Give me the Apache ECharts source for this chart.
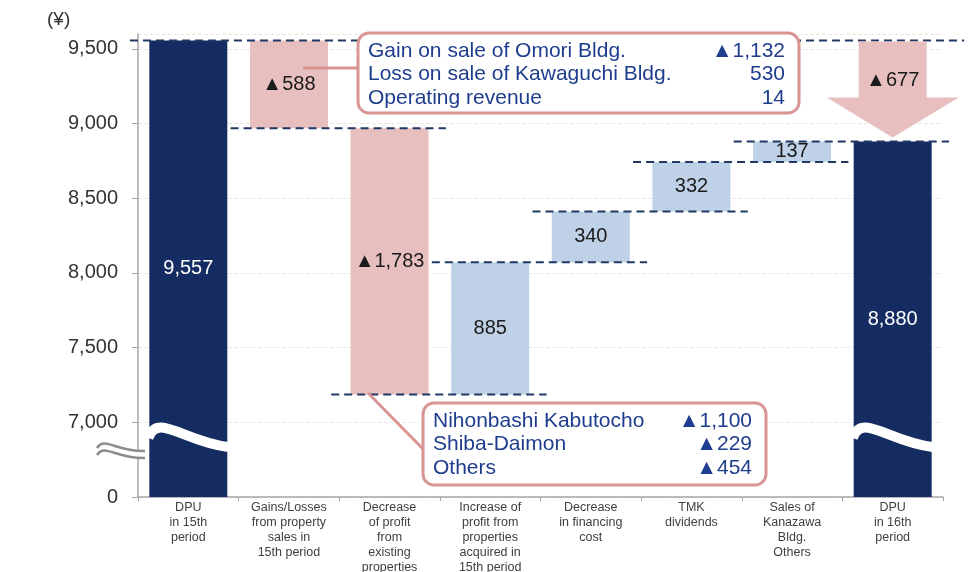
<!DOCTYPE html>
<html>
<head>
<meta charset="utf-8">
<title>DPU 15th to 16th period</title>
<script src="https://cdn.jsdelivr.net/npm/echarts@6.0.0/dist/echarts.min.js"></script>
<style>
    html, body { margin: 0; padding: 0; background: #fff; }
    #main { width: 969px; height: 572px; }
</style>
</head>
<body>
<div id="main"></div>
<script>
// categories of the bridge
var categories = [
    'DPU\nin 15th\nperiod',
    'Gains/Losses\nfrom property\nsales in\n15th period',
    'Decrease\nof profit\nfrom\nexisting\nproperties',
    'Increase of\nprofit from\nproperties\nacquired in\n15th period',
    'Decrease\nin financing\ncost',
    'TMK\ndividends',
    'Sales of\nKanazawa\nBldg.\nOthers',
    'DPU\nin 16th\nperiod'
];
// yen per unit, negative = decrease
var amounts = [9557, -588, -1783, 885, 340, 332, 137, 8880];
var isTotal = [true, false, false, false, false, false, false, true];

// breakdown callouts
var saleItems = ['Gain on sale of Omori Bldg.', 'Loss on sale of Kawaguchi Bldg.', 'Operating revenue'];
var saleValues = [-1132, 530, 14];
var existingItems = ['Nihonbashi Kabutocho', 'Shiba-Daimon', 'Others'];
var existingValues = [-1100, -229, -454];

var NAVY = '#142c61';
var PINK = '#e8bfbf';
var BLUE = '#bfd1e7';
var DASH = '#1f3864';
var CALLOUT = '#d99494';
var CALLTEXT = '#1f3d8e';
var FONT = '"Liberation Sans", Arial, sans-serif';

function fmt(v) {
    return (v < 0 ? '▲' : '') + Math.abs(v).toLocaleString('en-US');
}

// running totals -> invisible base + visible height
var bases = [], heights = [], ends = [];
var running = 0;
for (var i = 0; i < amounts.length; i++) {
    if (isTotal[i]) {
        bases.push(0);
        heights.push(amounts[i]);
        running = amounts[i];
    } else if (amounts[i] < 0) {
        running += amounts[i];
        bases.push(running);
        heights.push(-amounts[i]);
    } else {
        bases.push(running);
        heights.push(amounts[i]);
        running += amounts[i];
    }
    ends.push(running);
}
var last = amounts.length - 1;

// dashed level lines: [from, to, level] in category units
var connectors = [[-0.58, last + 0.71, ends[0]]];
for (var k = 1; k < last; k++) {
    if (isTotal[k]) continue;
    connectors.push([k - 0.58, k + 1.56, ends[k]]);
}

var chart = echarts.init(document.getElementById('main'));

var option = {
    animation: false,
    grid: {left: 138, right: 26, top: 34, bottom: 75, outerBoundsMode: 'none', containLabel: false},
    xAxis: [
        {
            type: 'category',
            data: categories,
            axisLine: {onZero: false, lineStyle: {color: '#a6a6a6', width: 1.5}},
            axisTick: {show: true, length: 4, lineStyle: {color: '#a6a6a6'}},
            axisLabel: {
                interval: 0,
                margin: 3,
                color: '#404040',
                fontSize: 12.5,
                lineHeight: 15,
                fontFamily: FONT,
                verticalAlign: 'top'
            }
        },
        {
            type: 'value',
            min: -0.5,
            max: last + 0.5,
            show: false,
            axisLine: {show: false, onZero: false},
            axisTick: {show: false},
            axisLabel: {show: false},
            splitLine: {show: false}
        }
    ],
    yAxis: {
        type: 'value',
        min: 6500,
        max: 9600,
        interval: 500,
        axisLine: {show: true, onZero: false, lineStyle: {color: '#a6a6a6', width: 1.5}},
        axisTick: {show: true, length: 6, lineStyle: {color: '#a6a6a6'}},
        axisLabel: {
            margin: 20,
            color: '#333',
            fontSize: 20,
            fontFamily: FONT,
            showMaxLabel: false,
            formatter: function (v) {
                if (v === 6500) return '0';
                if (v > 9500) return '';
                return v.toLocaleString('en-US');
            }
        },
        splitLine: {lineStyle: {color: '#e9e9e9', type: 'dashed'}}
    },
    series: [
        {
            name: 'base',
            type: 'bar',
            stack: 'bridge',
            barWidth: 78,
            silent: true,
            itemStyle: {color: 'transparent'},
            data: bases
        },
        {
            name: 'change',
            type: 'bar',
            stack: 'bridge',
            barWidth: 78,
            z: 3,
            data: heights.map(function (h, idx) {
                var color = isTotal[idx] ? NAVY : (amounts[idx] < 0 ? PINK : BLUE);
                return {
                    value: h,
                    itemStyle: {color: color},
                    label: {color: isTotal[idx] ? '#fff' : '#1a1a1a'}
                };
            }),
            label: {
                show: true,
                position: 'inside',
                fontSize: 20,
                fontFamily: FONT,
                formatter: function (p) {
                    return fmt(amounts[p.dataIndex]);
                }
            }
        },
        {
            name: 'levels',
            type: 'custom',
            xAxisIndex: 1,
            yAxisIndex: 0,
            clip: false,
            silent: true,
            z: 4,
            encode: {x: [0, 1], y: 2},
            data: connectors,
            renderItem: function (params, api) {
                var p1 = api.coord([api.value(0), api.value(2)]);
                var p2 = api.coord([api.value(1), api.value(2)]);
                return {
                    type: 'line',
                    shape: {x1: p1[0], y1: p1[1], x2: p2[0], y2: p2[1]},
                    style: {stroke: DASH, lineWidth: 2, lineDash: [8, 5]}
                };
            }
        },
        {
            name: 'total change',
            type: 'custom',
            z: 5,
            data: [[last, ends[0], ends[last]]],
            renderItem: function (params, api) {
                var top = api.coord([api.value(0), api.value(1)]);
                var tip = api.coord([api.value(0), api.value(2)]);
                var cx = top[0];
                var y0 = top[1] + 1;
                var y1 = tip[1] - 4;
                var headY = y1 - 40;
                return {
                    type: 'group',
                    children: [
                        {
                            type: 'polygon',
                            shape: {
                                points: [
                                    [cx - 34, y0], [cx + 34, y0], [cx + 34, headY], [cx + 66, headY],
                                    [cx, y1], [cx - 66, headY], [cx - 34, headY]
                                ]
                            },
                            style: {fill: PINK}
                        },
                        {
                            type: 'text',
                            style: {
                                text: fmt(api.value(2) - api.value(1)),
                                x: cx,
                                y: y0 + 39,
                                align: 'center',
                                verticalAlign: 'middle',
                                font: '20px ' + FONT,
                                fill: '#1a1a1a'
                            }
                        }
                    ]
                };
            }
        }
    ]
};

chart.setOption(option);

// broken-axis marks and callout boxes
var breakY = chart.convertToPixel({yAxisIndex: 0}, 6895);
var axisX = chart.convertToPixel({xAxisIndex: 1}, -0.5);
var graphics = [];

[0, last].forEach(function (idx) {
    var left = chart.convertToPixel({xAxisIndex: 1}, idx) - 39;
    graphics.push({
        type: 'bezierCurve',
        z: 10,
        shape: {
            x1: left - 1, y1: breakY,
            cpx1: left + 8, cpy1: breakY - 26,
            cpx2: left + 35, cpy2: breakY + 4,
            x2: left + 79, y2: breakY + 9
        },
        style: {stroke: '#fff', lineWidth: 10, fill: null}
    });
});

function axisWave(dy, color, width) {
    return {
        type: 'bezierCurve',
        z: 10,
        shape: {
            x1: axisX - 41, y1: breakY + 10 + dy,
            cpx1: axisX - 33, cpy1: breakY - 2 + dy,
            cpx2: axisX - 22, cpy2: breakY + 14 + dy,
            x2: axisX + 7, y2: breakY + 13 + dy
        },
        style: {stroke: color, lineWidth: width, fill: null}
    };
}
graphics.push(axisWave(3.5, '#fff', 7));
graphics.push(axisWave(0, '#8c8c8c', 2.5));
graphics.push(axisWave(7, '#8c8c8c', 2.5));

graphics.push({
    type: 'text',
    left: 47,
    top: 10,
    style: {text: '(¥)', font: '19px ' + FONT, fill: '#333'}
});

function callout(box, lineFrom, lineTo, items, values) {
    var children = [
        {
            type: 'line',
            z: 20,
            shape: {x1: lineFrom[0], y1: lineFrom[1], x2: lineTo[0], y2: lineTo[1]},
            style: {stroke: CALLOUT, lineWidth: 3}
        },
        {
            type: 'rect',
            z: 21,
            shape: {x: box.x, y: box.y, width: box.w, height: box.h, r: 11},
            style: {fill: '#fff', stroke: CALLOUT, lineWidth: 3}
        }
    ];
    items.forEach(function (name, n) {
        var y = box.y + 18 + n * 23.5;
        children.push({
            type: 'text',
            z: 22,
            style: {text: name, x: box.x + 10, y: y, verticalAlign: 'middle', font: '21px ' + FONT, fill: CALLTEXT}
        });
        children.push({
            type: 'text',
            z: 22,
            style: {text: fmt(values[n]), x: box.x + box.w - 14, y: y, align: 'right', verticalAlign: 'middle', font: '21px ' + FONT, fill: CALLTEXT}
        });
    });
    return {type: 'group', children: children};
}

graphics.push(callout({x: 358, y: 33, w: 441, h: 80}, [303, 68], [358, 68], saleItems, saleValues));
graphics.push(callout({x: 423, y: 403, w: 343, h: 82}, [368, 393], [424, 450], existingItems, existingValues));

chart.setOption({graphic: graphics});
</script>
</body>
</html>
